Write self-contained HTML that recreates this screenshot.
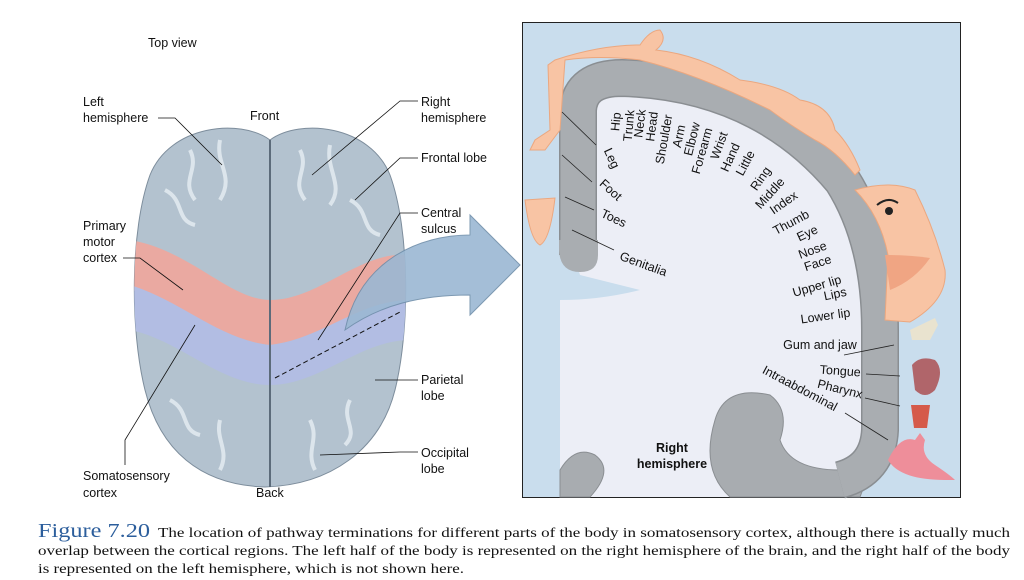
<!DOCTYPE html>
<html><head><meta charset="utf-8"><style>
html,body{margin:0;padding:0;background:#fff;width:1024px;height:580px;overflow:hidden}
svg{display:block}
.s{font-family:"Liberation Sans",sans-serif;font-size:12.5px;fill:#111}
.l{font-family:"Liberation Sans",sans-serif;font-size:12.5px;fill:#111}
.c{font-family:"Liberation Serif",serif;font-size:14px;fill:#111}
</style></head><body>
<svg width="1024" height="580" viewBox="0 0 1024 580" xmlns="http://www.w3.org/2000/svg">
<defs>
<clipPath id="bc"><path d="M270,140 C240,118 170,125 150,175 C130,230 130,330 145,390 C160,450 200,485 265,487 C330,485 380,450 395,390 C410,330 410,230 390,175 C370,125 300,118 270,140Z"/></clipPath>
</defs>
<path d="M270,140 C240,118 170,125 150,175 C130,230 130,330 145,390 C160,450 200,485 265,487 C330,485 380,450 395,390 C410,330 410,230 390,175 C370,125 300,118 270,140Z" fill="#b3c2cf" stroke="#7d8d9c"/>
<g clip-path="url(#bc)">
<path d="M130,240 C190,250 230,300 270,300 C320,300 360,250 410,255 L410,300 C360,300 320,340 270,345 C220,340 180,300 130,290Z" fill="#eaa9a1"/>
<path d="M130,285 C180,300 220,340 270,345 C320,340 360,300 410,300 L410,340 C360,340 320,385 270,385 C220,385 180,340 130,330Z" fill="#b2bde3"/>
<g fill="none" stroke="#e6edf3" stroke-width="4" opacity=".8">
<path d="M190,150 c10,20 -10,30 5,50 M220,140 c-5,25 15,35 0,60 M300,150 c10,20 -10,30 5,50 M330,145 c-5,25 15,40 0,60 M165,190 c20,10 10,30 30,35 M350,200 c20,10 10,30 30,35"/>
<path d="M170,400 c20,10 10,30 30,35 M220,420 c-5,20 10,30 0,50 M310,420 c10,20 -5,30 5,50 M350,400 c-10,20 10,30 -5,45"/>
</g>
</g>
<line x1="270" y1="140" x2="270" y2="487" stroke="#5c6b7a" stroke-width="2"/>
<path d="M345,330 C360,260 420,235 470,235 L470,215 L520,265 L470,315 L470,295 C420,295 380,305 345,330Z" fill="#9bb8d3" stroke="#6f8eaa" opacity=".9"/>
<line x1="275" y1="378" x2="400" y2="312" stroke="#111" stroke-dasharray="5,3"/>
<text class="s" x="148" y="47">Top view</text>
<text class="s" x="83" y="106">Left</text><text class="s" x="83" y="122">hemisphere</text>
<polyline points="158,118 175,118 222,165" fill="none" stroke="#111" stroke-width=".8"/>
<text class="s" x="250" y="120">Front</text>
<text class="s" x="421" y="106">Right</text><text class="s" x="421" y="122">hemisphere</text>
<polyline points="418,101 400,101 312,175" fill="none" stroke="#111" stroke-width=".8"/>
<text class="s" x="421" y="162">Frontal lobe</text>
<polyline points="418,158 400,158 355,200" fill="none" stroke="#111" stroke-width=".8"/>
<text class="s" x="421" y="217">Central</text><text class="s" x="421" y="233">sulcus</text>
<polyline points="418,213 400,213 318,340" fill="none" stroke="#111" stroke-width=".8"/>
<text class="s" x="83" y="230">Primary</text><text class="s" x="83" y="246">motor</text><text class="s" x="83" y="262">cortex</text>
<polyline points="123,258 140,258 183,290" fill="none" stroke="#111" stroke-width=".8"/>
<text class="s" x="421" y="384">Parietal</text><text class="s" x="421" y="400">lobe</text>
<line x1="418" y1="380" x2="375" y2="380" stroke="#111" stroke-width=".8"/>
<text class="s" x="421" y="457">Occipital</text><text class="s" x="421" y="473">lobe</text>
<polyline points="418,452 400,452 320,455" fill="none" stroke="#111" stroke-width=".8"/>
<text class="s" x="83" y="480">Somatosensory</text><text class="s" x="83" y="497">cortex</text>
<polyline points="125,465 125,440 195,325" fill="none" stroke="#111" stroke-width=".8"/>
<text class="s" x="256" y="497">Back</text>

<rect x="522.5" y="22.5" width="438" height="475" fill="#c9dded" stroke="#222"/>
<path d="M575,260 L575,110 Q580,75 625,75 Q760,80 845,180 Q885,240 885,330 L885,430 Q880,480 840,497 L560,497 L560,300 Q600,300 640,290 L580,275Z" fill="#eceef6"/>
<path d="M560,497 L560,470 Q575,445 595,455 Q615,470 590,497Z" fill="#a8acb0" stroke="#8a8e92"/>
<path d="M715,420 Q725,385 770,395 Q790,410 780,440 Q790,470 840,470 L870,470 L860,497 L730,497 Q700,470 715,420Z" fill="#a8acb0" stroke="#8a8e92"/>
<path d="M578,255 L578,110 Q580,78 622,78 Q760,82 842,180 Q880,240 880,330 L880,430 Q878,470 840,480" fill="none" stroke="#8a8e92" stroke-width="38"/>
<path d="M578,255 L578,110 Q580,78 622,78 Q760,82 842,180 Q880,240 880,330 L880,430 Q878,470 840,480" fill="none" stroke="#a9adb1" stroke-width="35"/>
<path d="M559,250 Q560,272 580,272 Q598,272 598,255 L598,240 L559,240Z" fill="#a9adb1"/>
<path d="M555,60 Q600,45 640,45 Q650,30 660,30 Q668,40 656,50 Q700,55 740,80 Q780,85 800,100 Q830,105 835,130 Q850,145 860,170 L855,175 Q835,150 815,140 Q790,125 770,110 Q700,75 640,60 Q600,55 565,60 L560,130 L545,150 L530,150 L535,140 L550,130 L548,65Z" fill="#f8c4a4" stroke="#eba77f"/>
<path d="M525,200 L555,198 Q550,240 540,245 Q530,240 525,200Z" fill="#f8c4a4" stroke="#eba77f"/>
<path d="M855,190 Q890,180 915,190 Q935,230 945,270 Q948,300 910,322 L885,320 L888,255 Q880,215 855,190Z" fill="#f8c4a4" stroke="#eba77f"/>
<path d="M885,255 Q910,255 930,258 Q915,280 890,290Z" fill="#f0a583"/>
<circle cx="889" cy="211" r="4" fill="#222"/><path d="M877,205 Q888,196 898,203" stroke="#222" stroke-width="2" fill="none"/>
<path d="M910,330 L935,318 L938,325 L930,340 L912,340Z" fill="#e9e3cf"/>
<path d="M912,365 Q920,355 935,360 Q945,370 935,390 Q925,400 915,390Z" fill="#b0656a"/>
<path d="M911,405 L930,405 L927,428 L914,428Z" fill="#d55a4a"/>
<path d="M888,460 Q900,435 915,440 L920,433 L925,440 Q920,455 935,465 Q950,475 955,480 L945,480 Q900,480 888,460Z" fill="#ee8e9a"/>
<g class="l" text-anchor="middle">
<text transform="translate(620,122) rotate(-85)">Hip</text>
<text transform="translate(633,126) rotate(-85)">Trunk</text>
<text transform="translate(644,124) rotate(-83)">Neck</text>
<text transform="translate(656,127) rotate(-83)">Head</text>
<text transform="translate(668,140) rotate(-80)">Shoulder</text>
<text transform="translate(683,137) rotate(-78)">Arm</text>
<text transform="translate(696,140) rotate(-76)">Elbow</text>
<text transform="translate(706,152) rotate(-74)">Forearm</text>
<text transform="translate(723,147) rotate(-70)">Wrist</text>
<text transform="translate(734,159) rotate(-66)">Hand</text>
<text transform="translate(749,165) rotate(-62)">Little</text>
<text transform="translate(764,181) rotate(-55)">Ring</text>
<text transform="translate(773,196) rotate(-48)">Middle</text>
<text transform="translate(786,206) rotate(-35)">Index</text>
<text transform="translate(793,226) rotate(-28)">Thumb</text>
<text transform="translate(809,237) rotate(-25)">Eye</text>
<text transform="translate(814,254) rotate(-20)">Nose</text>
<text transform="translate(819,267) rotate(-18)">Face</text>
<text transform="translate(818,290) rotate(-16)">Upper lip</text>
<text transform="translate(836,298) rotate(-12)">Lips</text>
<text transform="translate(826,320) rotate(-8)">Lower lip</text>
<text transform="translate(820,349)">Gum and jaw</text>
<text transform="translate(840,375) rotate(4)">Tongue</text>
<text transform="translate(839,393) rotate(14)">Pharynx</text>
<text transform="translate(798,392) rotate(28)">Intraabdominal</text>
<text transform="translate(608,160) rotate(65)">Leg</text>
<text transform="translate(608,193) rotate(42)">Foot</text>
<text transform="translate(612,222) rotate(25)">Toes</text>
<text transform="translate(642,268) rotate(20)">Genitalia</text>
</g>
<g stroke="#222" stroke-width=".8">
<line x1="562" y1="112" x2="596" y2="145"/><line x1="562" y1="155" x2="592" y2="182"/><line x1="565" y1="197" x2="594" y2="210"/><line x1="572" y1="230" x2="614" y2="250"/>
<line x1="844" y1="355" x2="894" y2="345"/><line x1="866" y1="374" x2="900" y2="376"/><line x1="865" y1="398" x2="900" y2="406"/><line x1="845" y1="413" x2="888" y2="440"/>
</g>
<text class="l" x="672" y="452" text-anchor="middle" font-weight="bold" font-size="13">Right</text>
<text class="l" x="672" y="468" text-anchor="middle" font-weight="bold" font-size="13">hemisphere</text>
<text x="38" y="537" font-family="Liberation Serif,serif" font-size="20" fill="#2c5e9c" textLength="112" lengthAdjust="spacingAndGlyphs">Figure 7.20</text>
<text class="c" x="158" y="537" textLength="852" lengthAdjust="spacingAndGlyphs">The location of pathway terminations for different parts of the body in somatosensory cortex, although there is actually much</text>
<text class="c" x="38" y="555" textLength="972" lengthAdjust="spacingAndGlyphs">overlap between the cortical regions. The left half of the body is represented on the right hemisphere of the brain, and the right half of the body</text>
<text class="c" x="38" y="573" textLength="426" lengthAdjust="spacingAndGlyphs">is represented on the left hemisphere, which is not shown here.</text>
</svg>
</body></html>
